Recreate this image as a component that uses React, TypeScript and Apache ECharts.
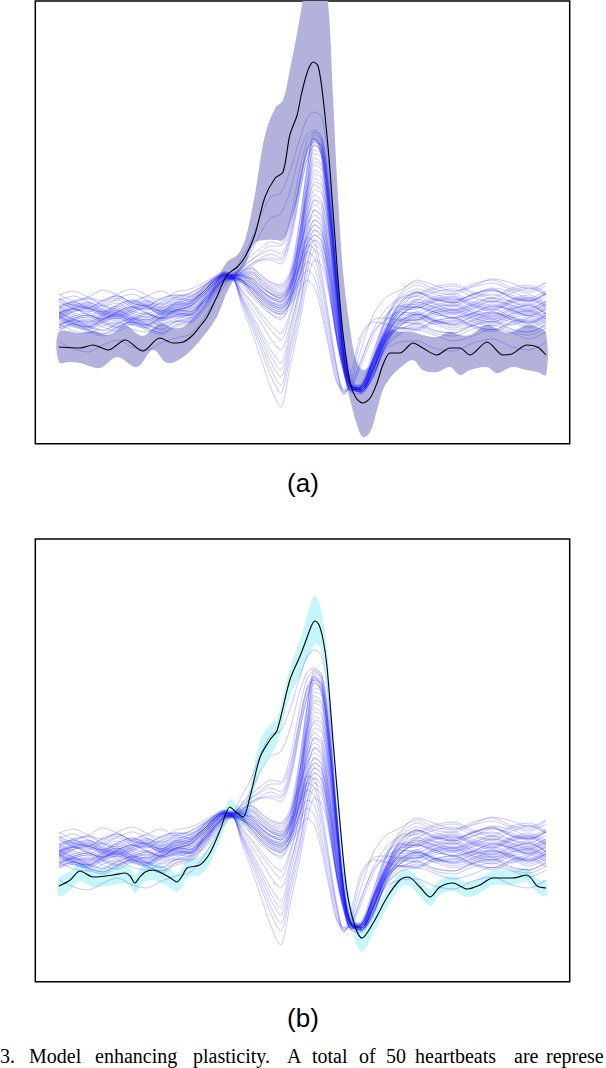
import React, { useEffect, useRef } from 'react';
import * as echarts from 'echarts';

// Shared time grid (0..100 % of the beat window) for the 50 heartbeats
const beatT = [0,3,6,9,12,15,18,21,24,27,30,32,34,35.5,37.5,39.5,41.5,43.5,45.5,47.5,49.5,51,52.5,54,55.5,57,58.5,60,62,64.5,67,70,73.5,77,81,85,89,93,96.5,100];

// 50 heartbeats (amplitude, arbitrary units)
const beats: number[][] = [
  [20,27,31,24,19,26,30,23,28,34, 42,52,58,56, 72,90,115,133,137,160, 192,212,218,212,160,55, -10,-45,-62,-48,-15,8, 10,19,24,15,11,20,25,16],
  [17,21,15,11,18,23,17,12,20,24, 38,48,57,54, 64,78,98,112,116,140, 178,196,200,192,150,45, -20,-50,-60,-38,-8,12, 28,23,17,22,29,25,19,26],
  [36,29,33,40,35,28,34,39,32,37, 45,52,56,55, 64,74,82,88,86,112, 162,190,198,186,132,40, -20,-55,-60,-36,-4,18, 30,38,41,33,28,37,42,35],
  [14,7,3,11,16,10,5,13,18,21, 30,42,52,53, 62,70,76,80,76,100, 150,182,192,180,125,55, -20,-58,-62,-40,-10,6, 8,15,18,10,6,14,17,9],
  [24,28,22,18,25,30,24,19,27,31, 40,50,56,54, 60,66,72,76,72,95, 145,178,190,178,120,50, -22,-58,-60,-32,-2,14, 31,26,20,25,32,28,22,29],
  [22,15,12,19,24,17,13,22,26,24, 36,47,54,52, 58,64,70,72,70,92, 140,172,185,176,122,52, -18,-56,-62,-40,-12,4, 14,6,9,16,11,5,12,17],
  [29,22,19,27,32,25,21,28,33,30, 44,52,57,55, 62,70,78,84,84,104, 150,180,188,172,115,42, -28,-60,-58,-30,0,20, 37,30,27,35,40,32,28,36],
  [4,11,15,8,3,10,16,11,15,19, 28,40,50,51, 58,66,70,70,66,88, 138,172,190,182,132,40, -25,-55,-64,-46,-16,2, 1,9,12,5,0,8,13,6],
  [13,6,3,10,15,8,5,12,17,15, 32,44,52,54, 56,58,50,43,40,55, 110,165,198,192,140,58, -22,-55,-60,-38,-6,14, 24,16,13,21,26,18,15,23],
  [5,9,3,-1,6,11,5,0,8,12, 26,40,50,52, 52,52,44,36,32,46, 100,160,195,190,138,55, -25,-57,-62,-42,-12,4, 13,8,2,7,14,10,4,11],
  [24,17,14,22,27,19,16,24,28,26, 40,50,56,55, 58,62,54,48,45,60, 112,162,192,185,132,50, -24,-56,-58,-30,2,26, 38,31,29,36,41,33,30,37],
  [10,18,21,13,9,16,22,15,19,24, 36,46,54,53, 54,48,40,32,28,42, 95,150,188,184,134,54, -22,-54,-60,-40,-10,10, 18,10,8,16,21,13,9,17],
  [0,4,-2,-6,1,6,0,-5,3,7, 20,34,46,50, 48,42,32,24,20,35, 85,145,185,178,125,45, -28,-58,-62,-45,-18,-4, 0,-5,-11,-6,1,-3,-9,-2],
  [31,24,22,30,34,27,24,32,35,33, 44,52,56,55, 56,56,48,40,36,50, 100,152,180,176,126,48, -24,-55,-58,-34,-4,20, 21,28,31,23,19,27,30,22],
  [3,10,13,6,2,9,14,7,11,16, 30,42,51,53, 52,46,36,28,25,38, 88,140,176,172,122,44, -26,-56,-60,-40,-12,8, 16,9,6,13,18,11,8,15],
  [18,11,8,15,20,13,10,17,21,19, 35,46,53,54, 55,54,46,38,34,48, 96,144,172,165,115,40, -28,-56,-57,-32,-2,24, 26,33,36,28,24,31,35,27],
  [22,26,20,16,23,28,22,17,25,29, 40,50,55,54, 54,50,40,33,30,44, 90,138,168,164,116,42, -26,-55,-60,-38,-8,14, 23,18,12,17,24,20,14,21],
  [6,-1,-3,4,8,1,-2,5,9,8, 24,37,48,51, 50,44,34,26,22,36, 82,134,165,160,112,40, -28,-57,-62,-44,-16,2, 0,7,10,3,-2,6,9,1],
  [14,21,24,17,13,20,25,18,22,27, 40,50,55,55, 57,60,52,45,42,55, 100,140,160,154,108,36, -28,-54,-56,-28,8,34, 45,38,36,43,47,40,37,44],
  [15,8,5,12,17,10,7,14,18,16, 32,44,52,53, 53,47,37,29,26,40, 80,128,156,152,106,36, -28,-56,-60,-40,-10,16, 18,25,28,20,16,24,27,19],
  [30,34,28,24,31,36,30,25,33,37, 46,53,57,56, 58,58,50,42,38,52, 92,132,152,146,100,32, -30,-56,-58,-36,-10,6, 15,10,4,9,16,12,6,13],
  [11,4,1,8,13,6,3,10,14,15, 28,41,50,52, 50,40,30,22,18,32, 74,122,148,144,100,32, -30,-57,-60,-38,-6,20, 23,30,33,25,21,29,32,24],
  [12,19,22,15,11,18,23,16,20,25, 38,48,54,54, 55,52,44,36,32,45, 84,126,145,138,96,28, -30,-56,-62,-46,-18,-3, 4,-3,-6,1,5,-2,-5,2],
  [28,21,18,25,30,23,20,27,31,29, 42,50,55,54, 50,38,27,19,15,28, 70,116,140,136,94,28, -30,-57,-60,-40,-10,12, 12,19,22,14,10,18,21,13],
  [2,6,0,-4,3,8,2,-3,5,10, 22,36,48,51, 50,48,39,31,28,42, 78,118,135,128,88,24, -32,-56,-56,-30,4,26, 38,33,27,32,39,35,29,36],
  [17,10,7,14,19,12,9,16,20,18, 34,46,53,53, 48,34,24,16,12,24, 62,106,130,126,86,22, -32,-57,-60,-42,-14,2, 2,9,12,4,0,8,11,3],
  [15,22,25,18,14,21,26,19,23,27, 40,50,55,55, 56,56,47,40,36,48, 80,112,125,118,80,18, -34,-56,-58,-36,-4,20, 28,21,18,26,30,22,19,27],
  [13,6,3,10,15,8,5,12,16,15, 30,42,51,52, 50,42,32,24,20,32, 66,102,120,114,76,16, -34,-57,-60,-40,-10,10, 10,17,20,12,8,16,19,11],
  [35,39,33,29,36,41,35,30,38,41, 48,54,58,57, 60,62,55,47,44,56, 84,106,115,108,72,14, -34,-55,-55,-24,12,36, 50,45,39,44,51,47,41,48],
  [10,3,0,7,12,5,2,9,13,12, 27,40,50,52, 50,44,34,27,24,35, 64,96,110,104,70,12, -35,-57,-60,-38,-8,15, 15,22,25,17,13,21,24,16],
  [17,24,27,20,16,23,28,21,25,28, 40,50,55,54, 54,50,40,33,30,40, 66,94,105,98,66,10, -36,-58,-62,-44,-16,0, 6,-1,-3,4,8,0,-2,5],
  [16,9,6,13,18,11,8,15,19,18, 33,45,52,53, 50,38,28,20,16,28, 56,86,100,95,62,8, -36,-57,-58,-34,-2,22, 24,31,34,26,22,30,33,25],
  [17,21,15,11,18,23,17,12,20,24, 38,48,54,54, 55,52,43,37,34,44, 66,86,95,88,58,6, -36,-56,-60,-40,-12,8, 16,11,5,10,17,13,7,14],
  [-12,-19,-22,-15,-10,-17,-20,-13,-8,-4, 14,30,44,50, 48,42,32,25,22,32, 56,80,90,84,54,4, -38,-58,-58,-28,8,30, 34,41,44,36,32,40,43,35],
  [18,11,8,15,20,13,10,17,19,21, 34,46,52,52, 25,-1,-29,-58,-77,-35, 10,48,70,64,34,-6, -40,-60,-58,-32,-6,10, 10,17,20,12,8,16,19,11],
  [18,25,28,21,17,24,29,22,26,29, 40,49,54,53, 28,5,-20,-46,-63,-25, 18,58,80,72,38,-6, -42,-61,-56,-28,0,24, 34,27,24,32,36,28,25,33],
  [6,10,4,0,7,12,6,1,9,13, 28,41,50,52, 30,8,-15,-39,-55,-18, 25,68,90,80,40,-10, -44,-62,-58,-34,-8,4, 11,6,0,5,12,8,2,9],
  [14,21,24,17,13,20,25,18,22,26, 38,48,54,53, 31,11,-10,-32,-47,-12, 28,66,85,78,40,-8, -42,-60,-57,-30,-2,18, 26,19,16,24,28,20,17,25],
  [14,7,4,11,16,9,6,13,17,16, 31,43,51,52, 33,14,-6,-26,-40,-5, 38,80,100,92,48,-5, -40,-58,-54,-22,10,32, 36,43,46,38,34,42,45,37],
  [22,29,32,25,21,28,33,26,30,33, 44,51,56,54, 34,17,-2,-20,-33,2, 45,90,110,102,55,-2, -38,-62,-64,-46,-20,-12, -11,-18,-21,-13,-9,-17,-20,-12],
  [2,6,0,-4,3,8,2,-3,5,9, 24,38,48,51, 37,22,7,-9,-20,6, 42,78,95,88,45,-6, -42,-60,-56,-30,-4,14, 23,18,12,17,24,20,14,21],
  [12,19,22,15,11,18,23,16,20,23, 37,47,53,53, 39,27,13,0,-10,14, 55,98,120,112,62,0, -38,-58,-56,-28,0,22, 30,23,20,28,32,24,21,29],
  [12,5,2,9,14,7,4,11,15,14, 30,42,51,52, 40,29,17,5,-3,18, 52,88,105,98,52,-4, -40,-60,-57,-32,-6,8, 6,13,16,8,4,12,15,7],
  [16,23,26,19,15,22,27,20,24,27, 40,49,54,54, 43,35,26,16,10,30, 70,112,130,122,72,5, -36,-58,-58,-32,-2,28, 38,31,28,36,40,32,29,37],
  [20,13,10,17,22,15,12,19,23,22, 36,47,53,53, 50,44,36,28,24,36, 62,78,72,40,0,-40, -62,-55,-30,-2,10,18, 16,23,26,18,14,22,25,17],
  [0,7,10,3,-1,6,11,4,8,11, 26,39,49,51, 46,38,28,20,16,28, 48,60,52,22,-15,-50, -64,-50,-10,8,6,2, 7,0,-3,5,9,1,-2,6],
  [24,28,22,18,25,30,24,19,27,31, 42,50,55,54, 52,46,38,32,28,42, 68,85,80,48,5,-38, -62,-56,-32,0,20,32, 41,36,30,35,42,38,32,39],
  [7,14,17,10,6,13,18,11,15,18, 32,44,52,52, 48,40,30,22,18,26, 40,50,42,15,-20,-52, -60,-42,-5,10,12,10, 16,9,6,14,18,10,7,15],
  [32,25,22,29,34,27,24,31,35,35, 45,52,56,55, 54,50,42,36,32,46, 72,92,88,55,10,-35, -60,-58,-36,-6,14,24, 22,29,32,24,20,28,31,23],
  [5,12,15,8,4,11,16,9,13,16, 30,42,51,52, 48,42,34,26,22,32, 55,68,62,30,-8,-45, -64,-52,-20,15,32,40, 48,41,38,46,50,42,39,47],
];

// Panel (a): black reference beat and its band
const blackAT = [0,4.3,7,10.1,13.6,17.2,20.7,23.4,25.5,27.5,29,30.4,32.4,34.5,36.6,38.2,40.2,42.3,44.4,46,47.4,48.9,49.7,50.5,51.3,52.2,53.2,54.2,55.6,57.1,58.3,59.8,61,62.4,63.9,65.3,66.5,68,70,72.7,74.7,77.6,80.3,82.3,84.4,87.9,91.2,93,96.1,98.2,100];
const blackAV = [-17,-18,-15,-20,-10,-21,-8,-13,-12,-5,4,13,33,55,63,73,95,133,152,158,195,215,234,250,262,268,264,233,163,63,-3,-53,-68,-73,-68,-53,-35,-23,-23,-13,-18,-25,-18,-18,-25,-12,-25,-24,-15,-17,-25];
const bandAUpperT = [0,4.3,7,10.1,13.6,17.2,20.7,23.4,25.5,27.5,29,30.4,32.4,34.5,36.6,38.2,40.2,42.3,44.4,46,47.4,48.9,50.1,51.1,52.2,53.2,54.2,55.2,56.3,57.1,58.3,59.8,61,62.4,63.9,65.3,66.5,68,70,72.7,74.7,77.6,80.3,82.3,84.4,87.9,91.2,93,96.1,98.2,100];
const bandAUpper = [-2,-3,-1,-5,4,-6,7,2,3,12,20,30,50,68,75,90,135,195,222,230,260,297,330,350,360,355,345,330,230,150,60,0,-30,-40,-35,-20,-8,0,-2,-2,-5,-7,-2,-5,-5,5,-2,-2,5,3,-3];
const bandALowerT = [0,2.3,4.3,8.4,11.9,16,19.3,22.2,25.5,29,32.4,34.5,36.6,38.2,40.2,42.3,44.4,46,47.4,48.9,50.1,51.1,52.2,53.2,54.2,55.6,57.1,58.3,59.8,61,62.4,63.9,65.3,66.5,68,70,72.7,74.7,77.6,80.3,82.3,84.4,87.9,89.9,93,96.1,98.2,100];
const bandALower = [-32,-32,-33,-38,-27,-37,-20,-33,-27,-10,13,38,55,65,87,90,90,90,105,130,160,180,190,185,160,90,10,-40,-70,-92,-107,-102,-80,-60,-48,-38,-30,-40,-42,-37,-45,-40,-37,-43,-37,-40,-42,-45];

// Panel (b): black reference beat and its band
const blackBT = [0,2.3,4.3,7,11.1,13.6,14.6,15.6,16.6,17.7,19.3,22.2,23.2,24.2,25.3,26.3,28.9,31,33.1,35.1,36.3,37.8,39.2,41.3,43.3,44.8,47.4,49.5,50.9,51.9,52.6,53.4,54.2,55,56.3,57.7,59.1,60.8,62.2,64.5,67.4,70,71.7,74.1,76.2,78.2,80.9,83.8,86.4,89.1,93.2,96.1,98.2,100];
const blackBV = [-18,-12,-3,-9,-7,-5,-8,-15,-9,-4,-2,-8,-11,-14,-8,0,3,15,38,61,56,51,71,111,128,138,188,212,230,243,247,243,229,203,125,45,-22,-59,-70,-55,-29,-12,-9,-19,-29,-19,-15,-21,-17,-10,-10,-7,-18,-20];
const bandBUpper = [-10,-4,5,-1,1,3,0,-7,-1,4,6,0,-3,-6,0,8,11,23,46,69,64,59,82,128,143,150,200,228,252,268,272,266,248,220,138,56,-12,-50,-60,-46,-21,-5,-2,-12,-21,-12,-8,-14,-10,-3,-3,0,-11,-13];
const bandBLower = [-28,-22,-13,-19,-17,-15,-18,-25,-19,-14,-12,-18,-21,-24,-18,-10,-7,5,28,51,46,41,60,96,112,124,172,192,208,218,224,222,210,186,112,34,-34,-72,-84,-66,-39,-20,-17,-28,-38,-27,-23,-29,-25,-17,-17,-14,-25,-28];

const panelLabels = ['(a)', '(b)'];
const captionWords = ['3.', 'Model', 'enhancing', 'plasticity.', 'A', 'total', 'of', '50', 'heartbeats', 'are', 'represe'];
const captionX = [0, 29, 95, 193, 287, 312, 359, 386, 415, 514, 546];

const pairs = (xs: number[], ys: number[]) => xs.map((x, i) => [x, ys[i]]);

function bandSeries(upper: number[][], lower: number[][], color: string, idx: number) {
  const pts = upper.concat(lower.slice().reverse());
  return {
    type: 'custom',
    xAxisIndex: idx,
    yAxisIndex: idx,
    clip: true,
    silent: true,
    data: pts,
    encode: { x: 0, y: 1 },
    renderItem: (params: any, api: any) => {
      if (params.dataIndex !== 0) return { type: 'group', children: [] };
      const points = pts.map((p) => api.coord(p));
      return {
        type: 'polygon',
        shape: { points, smooth: 0.35 },
        style: { fill: color, stroke: null },
      };
    },
  };
}

export default function App() {
  const ref = useRef<HTMLDivElement>(null);
  useEffect(() => {
    if (!ref.current) return;
    const chart = echarts.init(ref.current, null, { renderer: 'svg', width: 606, height: 1068 });
    const series: any[] = [];
    const tops = [1, 539];
    tops.forEach((_, p) => {
      if (p === 0) {
        series.push(bandSeries(pairs(bandAUpperT, bandAUpper), pairs(bandALowerT, bandALower), '#b2b2dc', 0));
      } else {
        series.push(bandSeries(pairs(blackBT, bandBUpper), pairs(blackBT, bandBLower), '#c4f6fa', 1));
      }
      beats.forEach((b) => {
        series.push({
          type: 'line',
          xAxisIndex: p,
          yAxisIndex: p,
          data: pairs(beatT, b),
          symbol: 'none',
          smooth: 0.3,
          silent: true,
          lineStyle: { color: 'rgba(25,25,255,0.3)', width: 0.8 },
        });
      });
      series.push({
        type: 'line',
        xAxisIndex: p,
        yAxisIndex: p,
        data: p === 0 ? pairs(blackAT, blackAV) : pairs(blackBT, blackBV),
        symbol: 'none',
        smooth: 0.3,
        silent: true,
        lineStyle: { color: '#000', width: 1.1 },
      });
    });

    const graphic: any[] = [];
    panelLabels.forEach((t, i) => {
      graphic.push({
        type: 'text',
        x: 303,
        y: i === 0 ? 482.6 : 1017.6,
        style: {
          text: t,
          font: '26px "Liberation Sans", Arial, sans-serif',
          fill: '#000',
          align: 'center',
          verticalAlign: 'middle',
          textAlign: 'center',
          textVerticalAlign: 'middle',
        },
      });
    });
    captionWords.forEach((w, i) => {
      graphic.push({
        type: 'text',
        x: captionX[i],
        y: 1055.5,
        style: {
          text: w,
          font: '20px "Liberation Serif", "Times New Roman", serif',
          fill: '#000',
          align: 'left',
          verticalAlign: 'middle',
          textAlign: 'left',
          textVerticalAlign: 'middle',
        },
      });
    });

    chart.setOption({
      animation: false,
      grid: tops.map((top) => ({
        left: 35.3,
        top,
        width: 534.4,
        height: 442.8,
        show: true,
        borderColor: '#000',
        borderWidth: 1.5,
        backgroundColor: 'transparent',
      })),
      xAxis: tops.map((_, i) => ({ type: 'value', gridIndex: i, min: -4.867, max: 104.867, show: false })),
      yAxis: tops.map((_, i) => ({ type: 'value', gridIndex: i, min: -113.8, max: 329, show: false })),
      series,
      graphic,
    });
    return () => chart.dispose();
  }, []);
  return <div ref={ref} style={{ position: 'absolute', left: 0, top: 0, width: 606, height: 1068 }} />;
}
